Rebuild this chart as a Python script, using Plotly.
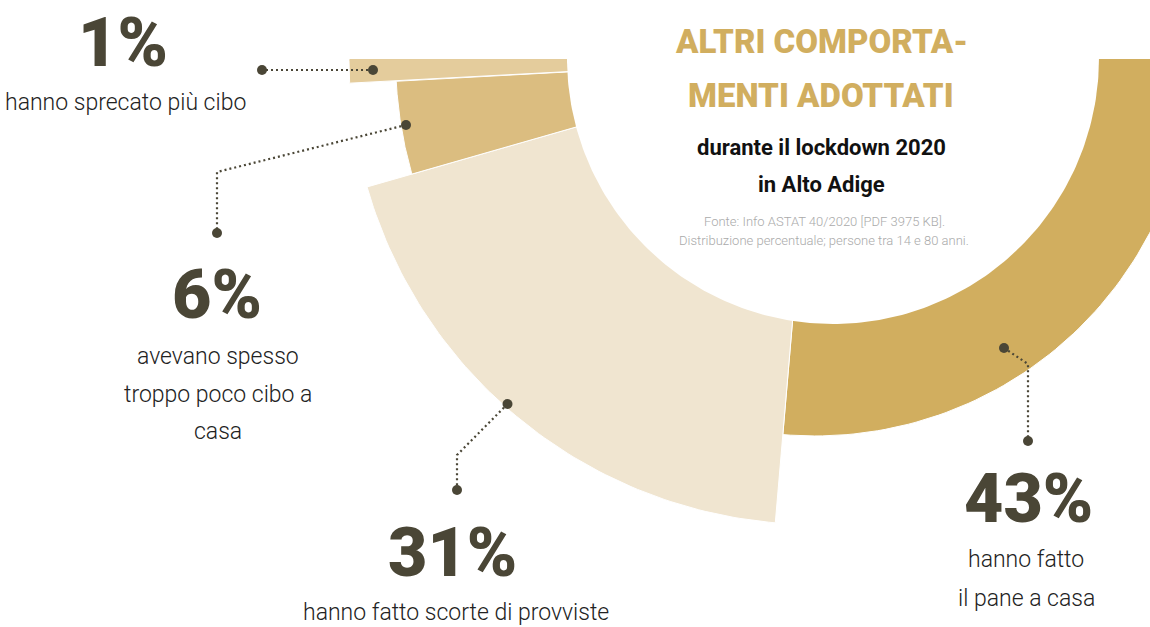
import numpy as np
import plotly.graph_objects as go

# ---------------- data ----------------
categories = [
    "hanno fatto il pane a casa",
    "hanno fatto scorte di provviste",
    "avevano spesso troppo poco cibo a casa",
    "hanno sprecato più cibo",
]
shares = [42.7, 31.1, 5.8, 1.4]          # percent (angular size)
depth_z = [81, 100, 90, 100]             # variable-pie z (radial size)
desc_lines = [
    ["hanno fatto", "il pane a casa"],
    ["hanno fatto scorte di provviste"],
    ["avevano spesso", "troppo poco cibo a", "casa"],
    ["hanno sprecato più cibo"],
]
colors = ["#D1AE5F", "#F0E5D0", "#DBBD80", "#E4CC9C"]

title_lines = ["ALTRI COMPORTA-", "MENTI ADOTTATI"]
subtitle_lines = ["durante il lockdown 2020", "in Alto Adige"]
source_lines = ["Fonte: Info ASTAT 40/2020 [PDF 3975 KB].",
                "Distribuzione percentuale; persone tra 14 e 80 anni."]

# ---------------- layout constants ----------------
W, H = 1150, 627
CX, CY = 815, 58.5          # pie centre (pixels)
R_MAX = 466                 # radius for z = 100
HOLE_X, HOLE_Y, HOLE_R = 833, 58, 266
START_DEG, SWEEP_DEG = 0.0, 180.0   # clockwise from 3 o'clock

DARK = "#4A4636"
GOLD = "#D1AE5F"
FONT = "Roboto, Lato, sans-serif"

leaders = [
    [(1004, 348), (1028, 364), (1028, 441)],
    [(507.5, 404), (457, 455), (457, 490)],
    [(406, 125), (217, 172), (217, 233)],
    [(373, 70), (262, 70)],
]
label_pos = [
    dict(x=1028, y_pct=499, x_txt=1026, y_lines=[559, 598]),
    dict(x=452, y_pct=553, x_txt=456, y_lines=[612]),
    dict(x=217, y_pct=295, x_txt=218, y_lines=[356, 394, 431]),
    dict(x=123, y_pct=43, x_txt=125, y_lines=[102]),
]

fig = go.Figure()

# ---------------- slices ----------------
total = sum(shares)
angle = START_DEG
for val, z, col, name in zip(shares, depth_z, colors, categories):
    span = SWEEP_DEG * val / total
    a = np.radians(np.linspace(angle, angle + span, 80))
    r = R_MAX * z / 100.0
    xs = np.concatenate([[CX], CX + r * np.cos(a), [CX]])
    ys = np.concatenate([[CY], CY + r * np.sin(a), [CY]])
    fig.add_trace(go.Scatter(
        x=xs, y=ys, mode="lines", fill="toself", fillcolor=col,
        line=dict(color="white", width=1), name=name, hoverinfo="skip",
        showlegend=False))
    angle += span

# ---------------- white centre disc ----------------
t = np.radians(np.linspace(0, 360, 361))
fig.add_trace(go.Scatter(
    x=HOLE_X + HOLE_R * np.cos(t), y=HOLE_Y + HOLE_R * np.sin(t),
    mode="lines", fill="toself", fillcolor="white",
    line=dict(color="white", width=0), hoverinfo="skip", showlegend=False))

# ---------------- leader lines ----------------
for pts in leaders:
    lx = [p[0] for p in pts]
    ly = [p[1] for p in pts]
    fig.add_trace(go.Scatter(
        x=lx, y=ly, mode="lines",
        line=dict(color=DARK, width=2.2, dash="2px,3px"),
        hoverinfo="skip", showlegend=False))
    fig.add_trace(go.Scatter(
        x=[lx[0], lx[-1]], y=[ly[0], ly[-1]], mode="markers",
        marker=dict(color=DARK, size=10), hoverinfo="skip", showlegend=False))

# ---------------- labels ----------------
annotations = []
for val, lines, pos in zip(shares, desc_lines, label_pos):
    annotations.append(dict(
        x=pos["x"], y=pos["y_pct"], text=f"{round(val)}%",
        showarrow=False, xanchor="center", yanchor="middle",
        font=dict(family=FONT, size=68, color=DARK, weight=900)))
    for ln, yy in zip(lines, pos["y_lines"]):
        annotations.append(dict(
            x=pos["x_txt"], y=yy, text=ln, showarrow=False,
            xanchor="center", yanchor="middle",
            font=dict(family=FONT, size=23, color="#222222", weight=300)))

for ln, yy in zip(title_lines, [41, 95]):
    annotations.append(dict(
        x=821, y=yy, text=ln, showarrow=False,
        xanchor="center", yanchor="middle",
        font=dict(family=FONT, size=33, color=GOLD, weight=900)))
for ln, yy in zip(subtitle_lines, [147, 184]):
    annotations.append(dict(
        x=821, y=yy, text=ln, showarrow=False,
        xanchor="center", yanchor="middle",
        font=dict(family=FONT, size=22, color="#111111", weight=700)))
for ln, yy in zip(source_lines, [221, 240]):
    annotations.append(dict(
        x=824, y=yy, text=ln, showarrow=False,
        xanchor="center", yanchor="middle",
        font=dict(family=FONT, size=13, color="#AAAAAA", weight=300)))

fig.update_layout(
    width=W, height=H, margin=dict(l=0, r=0, t=0, b=0),
    paper_bgcolor="white", plot_bgcolor="white",
    xaxis=dict(range=[0, W], visible=False, fixedrange=True),
    yaxis=dict(range=[H, 0], visible=False, fixedrange=True),
    annotations=annotations, showlegend=False,
)

fig.write_html("out.html")
